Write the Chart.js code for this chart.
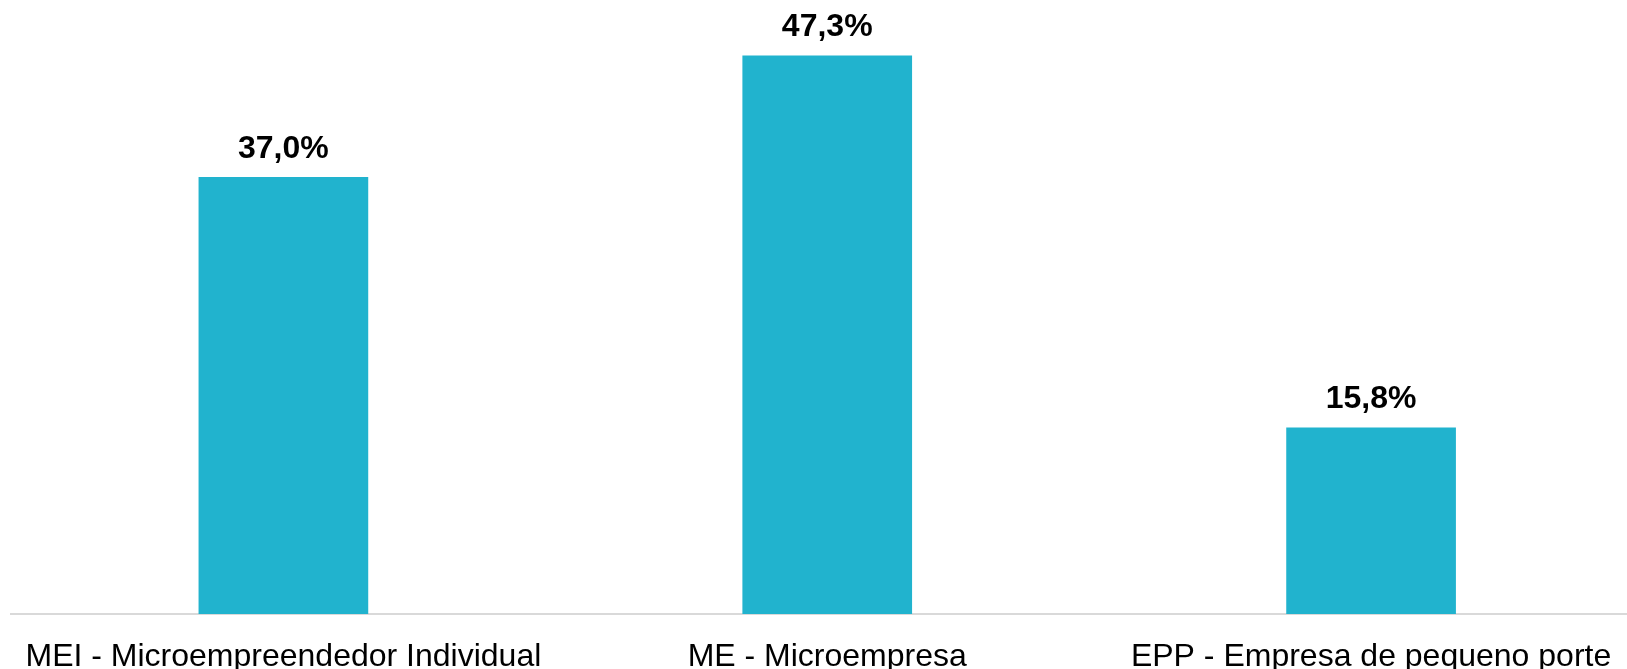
<!DOCTYPE html>
<html>
<head>
<meta charset="utf-8">
<script src="https://cdn.jsdelivr.net/npm/chart.js@4/dist/chart.umd.min.js"></script>
<style>
  html, body { margin: 0; padding: 0; background: #fff; }
  #wrap { position: relative; width: 1627px; height: 669px; overflow: hidden; }
  #myChart { position: absolute; left: 0; top: 0; }
</style>
</head>
<body>
<div id="wrap"><canvas id="myChart" width="1650" height="669"></canvas></div>
<script>
const categories = ['MEI - Microempreendedor Individual', 'ME - Microempresa', 'EPP - Empresa de pequeno porte'];
const shares = [37.0, 47.3, 15.8];
const barColor = '#21b3ce';

// draws the "37,0%" style labels over each bar
const valueLabels = {
    id: 'valueLabels',
    afterDatasetsDraw(chart) {
        const ctx = chart.ctx;
        const meta = chart.getDatasetMeta(0);
        ctx.save();
        ctx.font = 'bold 32px "Liberation Sans", Arial, sans-serif';
        ctx.fillStyle = '#000';
        ctx.textAlign = 'center';
        ctx.textBaseline = 'alphabetic';
        meta.data.forEach((bar, i) => {
            const txt = shares[i].toFixed(1).replace('.', ',') + '%';
            ctx.fillText(txt, bar.x, bar.y - 19);
        });
        ctx.restore();
    }
};

let myChart = document.getElementById('myChart').getContext('2d');
let shareChart = new Chart(myChart, {
    type: 'bar',
    data: {
        labels: categories,
        datasets: [{
            data: shares,
            backgroundColor: barColor,
            borderWidth: 0,
            categoryPercentage: 1,
            barPercentage: 0.312
        }]
    },
    options: {
        responsive: false,
        animation: false,
        layout: { padding: { left: 9, right: 7, top: 0, bottom: 0 } },
        plugins: { legend: { display: false }, tooltip: { enabled: false } },
        scales: {
            y: { display: false, min: 0, max: 52 },
            x: {
                grid: { display: false, drawTicks: false },
                border: { display: true, color: '#d9d9d9', width: 2 },
                ticks: {
                    color: '#000',
                    padding: 24,
                    maxRotation: 0,
                    autoSkip: false,
                    font: { family: '"Liberation Sans", Arial, sans-serif', size: 32 }
                },
                afterFit(scale) { scale.height = 55; }
            }
        }
    },
    plugins: [valueLabels]
});
</script>
</body>
</html>
